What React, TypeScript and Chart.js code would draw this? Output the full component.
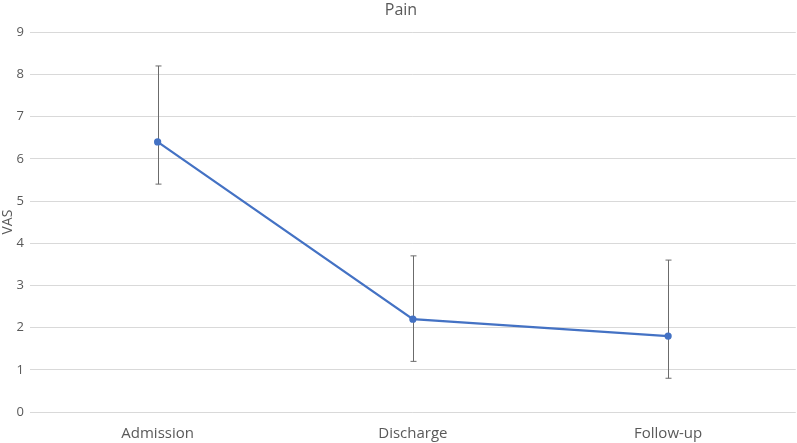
import { useEffect, useRef } from 'react'
import { Chart, registerables } from 'chart.js'

Chart.register(...registerables)

const categories = ['Admission', 'Discharge', 'Follow-up']
const meanVas = [6.4, 2.2, 1.8]
const errLow = [5.4, 1.2, 0.8]
const errHigh = [8.2, 3.7, 3.6]

const FONT = "'Open Sans', 'Liberation Sans', sans-serif"
const TEXT = '#595959'

const errorBars = {
  id: 'errorBars',
  beforeDatasetsDraw(chart: any) {
    const { ctx, scales: { y } } = chart
    const meta = chart.getDatasetMeta(0)
    ctx.save()
    ctx.strokeStyle = '#6b6b6b'
    ctx.lineWidth = 1
    meta.data.forEach((pt: any, i: number) => {
      const x = Math.round(pt.x) + 0.5
      const yTop = y.getPixelForValue(errHigh[i])
      const yBot = y.getPixelForValue(errLow[i])
      ctx.beginPath()
      ctx.moveTo(x, yTop); ctx.lineTo(x, yBot)
      ctx.moveTo(x - 3, yTop); ctx.lineTo(x + 3, yTop)
      ctx.moveTo(x - 3, yBot); ctx.lineTo(x + 3, yBot)
      ctx.stroke()
    })
    ctx.restore()
  },
}

export default function App() {
  const canvasRef = useRef<HTMLCanvasElement>(null)
  const chartRef = useRef<Chart | null>(null)

  useEffect(() => {
    if (!canvasRef.current) return
    if (chartRef.current) { chartRef.current.destroy(); chartRef.current = null }

    chartRef.current = new Chart(canvasRef.current, {
      type: 'line',
      plugins: [errorBars],
      data: {
        labels: categories,
        datasets: [{
          label: 'VAS',
          data: meanVas,
          borderColor: '#4472c4',
          backgroundColor: '#4472c4',
          borderWidth: 2.25,
          pointRadius: 2.5,
          pointBackgroundColor: '#4472c4',
          pointBorderColor: '#4472c4',
          tension: 0,
        }],
      },
      options: {
        responsive: false,
        animation: false,
        layout: { padding: 0 },
        plugins: {
          legend: { display: false },
          tooltip: { enabled: false },
          title: {
            display: true,
            text: 'Pain',
            color: TEXT,
            font: { family: FONT, size: 16, weight: 'normal' },
            padding: { top: 1, bottom: 12 },
          },
        },
        scales: {
          x: {
            offset: true,
            grid: { display: false, drawTicks: false },
            border: { display: false },
            ticks: { color: TEXT, font: { family: FONT, size: 15 }, padding: 13 },
            afterFit: (s: any) => { s.height = 31 },
          },
          y: {
            min: 0,
            max: 9,
            grid: { color: '#d9d9d9', drawTicks: false },
            border: { display: false },
            ticks: { stepSize: 1, color: TEXT, font: { family: FONT, size: 13 }, padding: 6 },
            title: {
              display: true,
              text: 'VAS',
              color: TEXT,
              font: { family: FONT, size: 14 },
              padding: { top: 0, bottom: 0 },
            },
            afterFit: (s: any) => { s.width = 30 },
          },
        },
      },
    })

    return () => { chartRef.current?.destroy() }
  }, [])

  return (
    <div style={{ position: 'fixed', left: 0, top: 0, width: 797, height: 443, overflow: 'hidden', background: '#fff' }}>
      <canvas ref={canvasRef} width={802} height={443} />
    </div>
  )
}
